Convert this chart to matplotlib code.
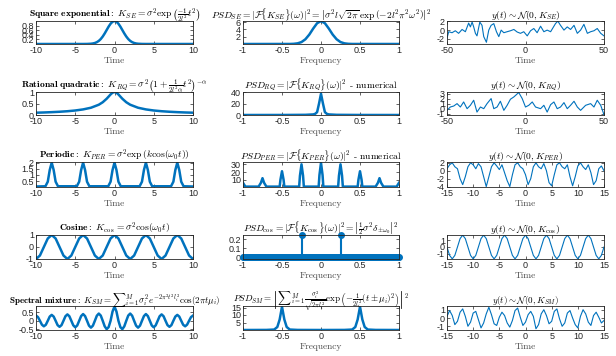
import numpy as np
import matplotlib
matplotlib.use("Agg")
import matplotlib.pyplot as plt

plt.rcParams['mathtext.fontset'] = 'cm'
plt.rcParams['font.family'] = ['Liberation Sans', 'DejaVu Sans']
plt.rcParams['axes.unicode_minus'] = False

BLUE = '#0072BD'

# ---- row 1 : square exponential
t_se = [-10, -4, -3.5, -3, -2.75, -2.5, -2.25, -2, -1.75, -1.5, -1.25, -1, -0.75, -0.5, -0.25, 0,
        0.25, 0.5, 0.75, 1, 1.25, 1.5, 1.75, 2, 2.25, 2.5, 2.75, 3, 3.5, 4, 10]
k_se = [0, 0.0003, 0.0022, 0.011, 0.023, 0.044, 0.080, 0.135, 0.216, 0.325, 0.458, 0.607, 0.755, 0.882, 0.969, 1,
        0.969, 0.882, 0.755, 0.607, 0.458, 0.325, 0.216, 0.135, 0.080, 0.044, 0.023, 0.011, 0.0022, 0.0003, 0]
f_se = [-1, -0.4, -0.35, -0.3, -0.25, -0.2, -0.15, -0.1, -0.05, 0, 0.05, 0.1, 0.15, 0.2, 0.25, 0.3, 0.35, 0.4, 1]
p_se = [0, 0.01, 0.05, 0.18, 0.53, 1.30, 2.58, 4.23, 5.69, 6.28, 5.69, 4.23, 2.58, 1.30, 0.53, 0.18, 0.05, 0.01, 0]
ts_se = [-50, -48.9, -46.8, -44.7, -42.6, -40.4, -38.3, -36.2, -35.1, -34.0, -33.0, -31.9, -30.9, -29.1, -27.7,
         -26.6, -24.9, -23.4, -21.9, -20.2, -18.5, -17.0, -15.5, -13.8, -11.7, -9.6, -7.4, -5.3, -3.2, -1.1,
         1.1, 3.2, 5.3, 7.4, 9.6, 11.7, 13.8, 16.0, 19.1, 20.6, 22.3, 24.5, 26.6, 28.7, 30.9, 33.0, 35.1,
         37.2, 39.4, 41.5, 43.6, 45.7, 47.9, 50]
ys_se = [-1.85, -0.37, -0.6, -0.15, -0.74, 0.15, -0.37, 1.63, 0.74, 1.85, 0.74, -0.74, -1.33, 1.85, 1.1,
         -1.5, -2.8, 0, 1.1, 1.5, -0.37, -1.5, 0, -0.6, -0.37, -0.15, 0.15, -0.44, -0.74, -0.37,
         -1.33, -0.15, 0.37, -0.6, 0.9, -0.37, 0, -0.37, 1.5, 2.07, 1.1, 0, 0.74, 0.15, 1.1, -0.74, 0,
         1.33, -0.74, -0.37, -0.15, 0.37, -0.74, -1.33]

# ---- row 2 : rational quadratic
t_rq = [-10, -9, -8, -7, -6, -5, -4, -3, -2, -1.5, -1, -0.75, -0.5, -0.25, 0,
        0.25, 0.5, 0.75, 1, 1.5, 2, 3, 4, 5, 6, 7, 8, 9, 10]
k_rq = [0.10, 0.11, 0.124, 0.141, 0.164, 0.196, 0.243, 0.316, 0.447, 0.555, 0.707, 0.80, 0.894, 0.97, 1,
        0.97, 0.894, 0.80, 0.707, 0.555, 0.447, 0.316, 0.243, 0.196, 0.164, 0.141, 0.124, 0.11, 0.10]
f_rq = [-1, -0.5, -0.2, -0.1, -0.075, -0.05, -0.025, 0, 0.025, 0.05, 0.075, 0.1, 0.2, 0.5, 1]
p_rq = [0, 0.05, 0.3, 1.0, 2.0, 5.0, 20.0, 37.0, 20.0, 5.0, 2.0, 1.0, 0.3, 0.05, 0]
ts_rq = [-50, -47.9, -45.7, -43.6, -41.5, -39.4, -37.2, -35.1, -33.0, -30.9, -28.7, -26.6, -24.5, -21.9,
         -20.2, -18.1, -16.0, -13.8, -11.7, -9.6, -7.4, -4.3, -2.1, 0, 2.1, 4.3, 6.4, 9.6, 11.7, 13.8, 16.0,
         18.1, 20.2, 22.3, 24.5, 26.6, 28.7, 30.9, 33.0, 35.1, 38.3, 41.5, 43.6, 45.7, 47.9, 50]
ys_rq = [-0.33, 0.33, 0.53, 1.0, 0.33, 1.33, 0, 0.67, 1.67, -0.67, 0.33, 0, 1.0, 2.0,
         0, 0.33, 1.47, -0.33, 0.67, 1.87, 2.33, 3.2, 2.0, 0.33, 0.67, 1.33, 0.33, 0, 0.67, -0.67, 0.8,
         1.33, 0, 0.33, 1.2, 0, 0.67, 1.47, 0.33, -0.33, 0.67, 1.0, 0.33, 1.67, 0.67, -1.2]

# ---- row 3 : periodic
t_per = [-10, -8.8, -8.5, -8.25, -8, -7.75, -7.5, -7.2, -4.8, -4.5, -4.25, -4, -3.75, -3.5, -3.2,
         -0.8, -0.5, -0.25, 0, 0.25, 0.5, 0.8, 3.2, 3.5, 3.75, 4, 4.25, 4.5, 4.8,
         7.2, 7.5, 7.75, 8, 8.25, 8.5, 8.8, 10]
k_per = [0.06, 0.08, 0.45, 1.4, 2.0, 1.4, 0.45, 0.08, 0.08, 0.45, 1.4, 2.0, 1.4, 0.45, 0.08,
         0.08, 0.45, 1.4, 2.0, 1.4, 0.45, 0.08, 0.08, 0.45, 1.4, 2.0, 1.4, 0.45, 0.08,
         0.08, 0.45, 1.4, 2.0, 1.4, 0.45, 0.08, 0.06]
f_per = [-1, -0.97, -0.8, -0.77, -0.75, -0.73, -0.7, -0.53, -0.52, -0.5, -0.48, -0.47, -0.28, -0.27, -0.25,
         -0.23, -0.22, -0.03, -0.02, 0, 0.02, 0.03, 0.22, 0.23, 0.25, 0.27, 0.28, 0.47, 0.48, 0.5, 0.52,
         0.53, 0.7, 0.73, 0.75, 0.77, 0.8, 0.97, 1]
p_per = [6, 1, 1, 6, 12, 6, 1, 1, 10, 21, 10, 1, 1, 15, 30,
         15, 1, 1, 16, 32, 16, 1, 1, 15, 30, 15, 1, 1, 10, 21, 10,
         1, 1, 6, 12, 6, 1, 1, 6]
ts_per = [-15, -14.5, -14, -13.5, -13, -12.5, -12, -11.5, -11, -10.5, -10, -9.5, -9, -8.5, -8, -7.5, -7,
          -6.5, -6, -5.5, -5, -4.5, -4, -3.5, -3, -2.5, -2, -1.5, -1, -0.5, 0, 0.5, 1, 1.5, 2, 2.5, 3,
          3.5, 4, 4.5, 5, 5.5, 6, 6.5, 7, 7.5, 8, 8.5, 9, 9.5, 10, 10.5, 11, 11.5, 12, 12.5, 13, 13.5,
          14, 14.5, 15]
ys_per = [0.5, 1.5, 2.0, 1.0, 0.5, -2.0, -3.5, -1.5, 1.0, 2.0, 1.5, 0.5, 1.8, 1.0, -1.5, -4.0, -1.5,
          1.0, 2.0, 1.2, 0.3, 1.5, -0.5, -2.5, -4.0, -1.0, 1.5, 2.0, 1.0, 0.5, -1.0, -3.5, -2.0,
          1.0, 2.0, 1.0, 0.5, 1.8, 0.0, -3.0, -3.8, -1.0, 1.5, 2.0, 1.0, 0.5, 1.5, -1.5, -3.8, -1.5,
          1.2, 2.0, 1.0, 0.3, 1.5, -0.5, -3.5, -2.5, 0.5, 1.2, 0.0]

# ---- row 4 : cosine
t_cos = [-10, -9.5, -9, -8.5, -8, -7.5, -7, -6.5, -6, -5.5, -5, -4.5, -4, -3.5, -3, -2.5, -2, -1.5, -1,
         -0.5, 0, 0.5, 1, 1.5, 2, 2.5, 3, 3.5, 4, 4.5, 5, 5.5, 6, 6.5, 7, 7.5, 8, 8.5, 9, 9.5, 10]
k_cos = [-1, -0.71, 0, 0.71, 1, 0.71, 0, -0.71, -1, -0.71, 0, 0.71, 1, 0.71, 0, -0.71, -1, -0.71, 0,
         0.71, 1, 0.71, 0, -0.71, -1, -0.71, 0, 0.71, 1, 0.71, 0, -0.71, -1, -0.71, 0, 0.71, 1, 0.71, 0,
         -0.71, -1]
f_cos = np.linspace(-1, 1, 161)
p_cos = [0.0] * 60 + [0.25] + [0.0] * 39 + [0.25] + [0.0] * 60
ts_cos = [-15, -14.5, -14, -13.5, -13, -12.5, -12, -11.5, -11, -10.5, -10, -9.5, -9, -8.5, -8, -7.5, -7,
          -6.5, -6, -5.5, -5, -4.5, -4, -3.5, -3, -2.5, -2, -1.5, -1, -0.5, 0, 0.5, 1, 1.5, 2, 2.5, 3,
          3.5, 4, 4.5, 5, 5.5, 6, 6.5, 7, 7.5, 8, 8.5, 9, 9.5, 10, 10.5, 11, 11.5, 12, 12.5, 13, 13.5,
          14, 14.5, 15]
ys_cos = [0, -1.2, -1.7, -1.2, 0, 1.2, 1.7, 1.2, 0, -1.2, -1.7, -1.2, 0, 1.2, 1.7, 1.2, 0, -1.2, -1.7,
          -1.2, 0, 1.2, 1.7, 1.2, 0, -1.2, -1.7, -1.2, 0, 1.2, 1.7, 1.2, 0, -1.2, -1.7, -1.2, 0, 1.2, 1.7,
          1.2, 0, -1.2, -1.7, -1.2, 0, 1.2, 1.7, 1.2, 0, -1.2, -1.7, -1.2, 0, 1.2, 1.7, 1.2, 0, -1.2, -1.7,
          -1.2, 0]

# ---- row 5 : spectral mixture
t_sm = [-10, -9.75, -9.5, -9.25, -9, -8.75, -8.5, -8.25, -8, -7.75, -7.5, -7.25, -7, -6.75, -6.5, -6.25,
        -6, -5.75, -5.5, -5.25, -5, -4.75, -4.5, -4.25, -4, -3.75, -3.5, -3.25, -3, -2.75, -2.5, -2.25,
        -2, -1.75, -1.5, -1.25, -1, -0.75, -0.5, -0.25, 0, 0.25, 0.5, 0.75, 1, 1.25, 1.5, 1.75,
        2, 2.25, 2.5, 2.75, 3, 3.25, 3.5, 3.75, 4, 4.25, 4.5, 4.75, 5, 5.25, 5.5, 5.75,
        6, 6.25, 6.5, 6.75, 7, 7.25, 7.5, 7.75, 8, 8.25, 8.5, 8.75, 9, 9.25, 9.5, 9.75, 10]
k_sm = [0.31, 0.22, 0, -0.23, -0.33, -0.24, 0, 0.25, 0.35, 0.25, 0, -0.26, -0.36, -0.26, 0, 0.27,
        0.38, 0.27, 0, -0.27, -0.39, -0.28, 0, 0.28, 0.40, 0.28, 0, -0.29, -0.41, -0.29, 0, 0.30,
        0.43, 0.31, 0, -0.33, -0.50, -0.38, 0, 0.55, 0.85, 0.55, 0, -0.38, -0.50, -0.33, 0, 0.31,
        0.43, 0.30, 0, -0.29, -0.41, -0.29, 0, 0.28, 0.40, 0.28, 0, -0.28, -0.39, -0.27, 0, 0.27,
        0.38, 0.27, 0, -0.26, -0.36, -0.26, 0, 0.25, 0.35, 0.25, 0, -0.24, -0.33, -0.23, 0, 0.22, 0.31]
f_sm = [-1, -0.7, -0.6, -0.56, -0.53, -0.5, -0.47, -0.44, -0.4, -0.3, 0, 0.3, 0.4, 0.44, 0.47, 0.5, 0.53,
        0.56, 0.6, 0.7, 1]
p_sm = [0, 0.05, 0.3, 2, 7, 15.5, 7, 2, 0.3, 0.05, 0, 0.05, 0.3, 2, 7, 15.5, 7, 2, 0.3, 0.05, 0]
ts_sm = [-15, -14.5, -14, -13.5, -13, -12.5, -12, -11.5, -11, -10.5, -10, -9.5, -9, -8.5, -8, -7.5, -7,
         -6.5, -6, -5.5, -5, -4.5, -4, -3.5, -3, -2.5, -2, -1.5, -1, -0.5, 0, 0.5, 1, 1.5, 2, 2.5, 3,
         3.5, 4, 4.5, 5, 5.5, 6, 6.5, 7, 7.5, 8, 8.5, 9, 9.5, 10, 10.5, 11, 11.5, 12, 12.5, 13, 13.5,
         14, 14.5, 15]
ys_sm = [0.2, 0.9, 0.3, -0.8, -0.4, 0.7, 1.1, 0.2, -1.0, -0.5, 0.6, 0.8, -0.2, -1.2, -0.6, 0.5, 1.3,
         0.4, -0.7, -0.9, 0.1, 0.7, 0.3, -0.6, -1.1, -0.3, 0.9, 1.2, 0.1, -0.9, -0.5, 0.4, 0.8, 0.2,
         -1.3, -0.8, 0.5, 1.0, 0.3, -0.7, -0.4, 0.8, 1.1, -0.1, -1.0, -0.6, 0.6, 0.9, 0.0, -0.8, -1.2,
         0.2, 1.0, 0.5, -0.5, -0.9, 0.3, 0.7, 0.1, -0.6, -0.3]

titles_left = [
    r'$\mathbf{Square\ exponential:}\ K_{SE} = \sigma^2 \exp\left(\frac{-1}{2l^2}t^2\right)$',
    r'$\mathbf{Rational\ quadratic:}\ K_{RQ} = \sigma^2\left(1+\frac{1}{2l^2\alpha}t^2\right)^{-\alpha}$',
    r'$\mathbf{Periodic:}\ K_{PER} = \sigma^2 \exp\left(k\cos(\omega_0 t)\right)$',
    r'$\mathbf{Cosine:}\ K_{\cos} = \sigma^2\cos(\omega_0 t)$',
    r'$\mathbf{Spectral\ mixture:}\ K_{SM} = {\sum}_{i=1}^{M}\sigma_i^2 e^{-2\pi^2 t^2 l_i^2}\cos(2\pi t\mu_i)$',
]
titles_mid = [
    r'$PSD_{SE} = |\mathcal{F}\{K_{SE}\}(\omega)|^2 = \left|\sigma^2 l\sqrt{2\pi}\,\exp\left(-2l^2\pi^2\omega^2\right)\right|^2$',
    r'$PSD_{RQ} = |\mathcal{F}\{K_{RQ}\}(\omega)|^2$ - numerical',
    r'$PSD_{PER} = |\mathcal{F}\{K_{PER}\}(\omega)|^2$ - numerical',
    r'$PSD_{\cos} = |\mathcal{F}\{K_{\cos}\}(\omega)|^2 = \left|\frac{1}{2}\sigma^2\delta_{\pm\omega_0}\right|^2$',
    r'$PSD_{SM} = \left|{\sum}_{i=1}^{M}\frac{\sigma_i^2}{\sqrt{2\pi l_i^2}}\exp\left(-\frac{1}{2l_i^2}(t\pm\mu_i)^2\right)\right|^2$',
]
titles_right = [r'$y(t) \sim \mathcal{N}(\mathbf{0}, K_{SE})$', r'$y(t) \sim \mathcal{N}(\mathbf{0}, K_{RQ})$',
                r'$y(t) \sim \mathcal{N}(\mathbf{0}, K_{PER})$', r'$y(t) \sim \mathcal{N}(\mathbf{0}, K_{\cos})$',
                r'$y(t) \sim \mathcal{N}(\mathbf{0}, K_{SM})$']

yt_left = [[0.2, 0.4, 0.6, 0.8], [0, 0.5, 1], [0.5, 1, 1.5, 2], [-1, 0, 1], [-0.5, 0, 0.5]]
yl_left = [['0.2', '0.4', '0.6', '0.8'], ['0', '0.5', '1'], ['0.5', '1', '1.5', '2'], ['-1', '0', '1'],
           ['-0.5', '0', '0.5']]
ylim_left = [(0, 1), (0, 1), (0.02, 2.05), (-1, 1), (-0.55, 0.88)]
yt_mid = [[2, 4, 6], [0, 20, 40], [10, 20, 30], [0, 0.1, 0.2], [5, 10, 15]]
yl_mid = [['2', '4', '6'], ['0', '20', '40'], ['10', '20', '30'], ['0', '0.1', '0.2'], ['5', '10', '15']]
ylim_mid = [(0, 6.3), (0, 40), (0.5, 33), (-0.02, 0.25), (0, 16)]
yt_right = [[-2, 0, 2], [-1, 0, 1, 2, 3], [-4, -2, 0, 2], [-1, 0, 1], [-1, 0, 1]]
yl_right = [['-2', '0', '2'], ['-1', '0', '1', '2', '3'], ['-4', '-2', '0', '2'], ['-1', '0', '1'],
            ['-1', '0', '1']]
ylim_right = [(-3.2, 2.1), (-1.25, 3.3), (-4.1, 2.2), (-1.72, 1.72), (-1.45, 1.45)]

W, H = 616, 356
cols = [(36, 193), (243, 399), (447, 604)]
rows = [(21, 44), (92, 115), (162, 187), (235, 259), (306, 330)]
title_size = [6.9, 6.9, 6.9, 6.9, 6.5]

fig = plt.figure(figsize=(W / 100, H / 100), dpi=100)


def make_ax(c, r):
    x0, x1 = cols[c]
    y0, y1 = rows[r]
    ax = fig.add_axes([x0 / W, 1 - y1 / H, (x1 - x0) / W, (y1 - y0) / H])
    ax.tick_params(direction='in', length=2, width=0.5, top=True, right=True, labelsize=6.5,
                   pad=1.5, colors='#262626')
    for s in ax.spines.values():
        s.set_linewidth(0.6)
        s.set_color('#262626')
    return ax


left_data = [(t_se, k_se), (t_rq, k_rq), (t_per, k_per), (t_cos, k_cos), (t_sm, k_sm)]
mid_data = [(f_se, p_se), (f_rq, p_rq), (f_per, p_per), (f_cos, p_cos), (f_sm, p_sm)]
right_data = [(ts_se, ys_se), (ts_rq, ys_rq), (ts_per, ys_per), (ts_cos, ys_cos), (ts_sm, ys_sm)]

lab_kw = dict(fontsize=6.8, family='cmr10', color='#4d4d4d', labelpad=1)

for r in range(5):
    title_kw = dict(fontsize=title_size[r], pad=2.5, family='cmr10')

    # kernel
    ax = make_ax(0, r)
    ax.plot(left_data[r][0], left_data[r][1], color=BLUE, lw=1.8)
    ax.set_xlim(-10, 10)
    ax.set_xticks([-10, -5, 0, 5, 10])
    ax.set_xticklabels(['-10', '-5', '0', '5', '10'])
    ax.set_yticks(yt_left[r])
    ax.set_yticklabels(yl_left[r])
    ax.set_ylim(*ylim_left[r])
    ax.set_title(titles_left[r], **title_kw)
    ax.set_xlabel('Time', **lab_kw)

    # spectrum
    ax = make_ax(1, r)
    if r == 3:
        ml, sl, bl = ax.stem(mid_data[r][0], mid_data[r][1], basefmt=' ')
        plt.setp(ml, color=BLUE, markersize=4, clip_on=False)
        plt.setp(sl, color=BLUE, linewidth=1.5)
    else:
        ax.plot(mid_data[r][0], mid_data[r][1], color=BLUE, lw=1.8)
    ax.set_xlim(-1, 1)
    ax.set_xticks([-1, -0.5, 0, 0.5, 1])
    ax.set_xticklabels(['-1', '-0.5', '0', '0.5', '1'])
    ax.set_yticks(yt_mid[r])
    ax.set_yticklabels(yl_mid[r])
    ax.set_ylim(*ylim_mid[r])
    ax.set_title(titles_mid[r], **title_kw)
    ax.set_xlabel('Frequency', **lab_kw)

    # sample
    ax = make_ax(2, r)
    ax.plot(right_data[r][0], right_data[r][1], color=BLUE, lw=0.8)
    if r < 2:
        ax.set_xlim(-50, 50)
        ax.set_xticks([-50, 0, 50])
        ax.set_xticklabels(['-50', '0', '50'])
    else:
        ax.set_xlim(-15, 15)
        ax.set_xticks([-15, -10, -5, 0, 5, 10, 15])
        ax.set_xticklabels(['-15', '-10', '-5', '0', '5', '10', '15'])
    ax.set_yticks(yt_right[r])
    ax.set_yticklabels(yl_right[r])
    ax.set_ylim(*ylim_right[r])
    ax.set_title(titles_right[r], **title_kw)
    ax.set_xlabel('Time', **lab_kw)

fig.savefig('out.png', dpi=100)
